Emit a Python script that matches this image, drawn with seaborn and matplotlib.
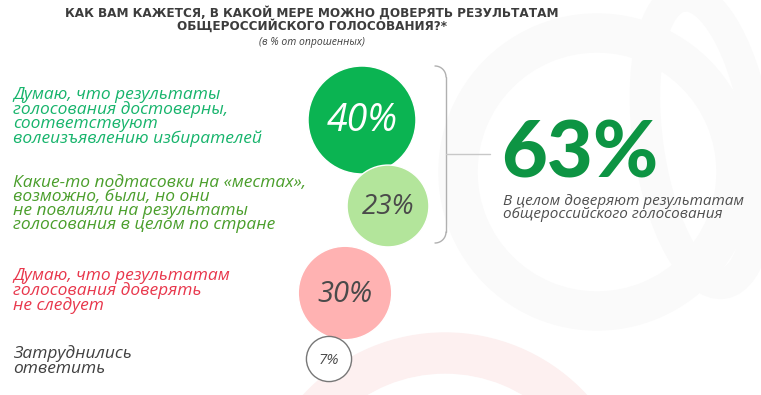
import numpy as np
import pandas as pd
import matplotlib
matplotlib.use('Agg')
import matplotlib.pyplot as plt
import seaborn as sns
from matplotlib.patches import Wedge, Ellipse

# Survey answers (percent of respondents)
answers = [
    'Думаю, что результаты\nголосования достоверны,\nсоответствуют\nволеизъявлению избирателей',
    'Какие-то подтасовки на «местах»,\nвозможно, были, но они\nне повлияли на результаты\nголосования в целом по стране',
    'Думаю, что результатам\nголосования доверять\nне следует',
    'Затруднились\nответить',
]
values = [40, 23, 30, 7]
total_trust = 63

# layout (pixel coords of the 761x395 canvas)
bubble_x = [362, 388, 345, 329]
bubble_y = [120, 206, 293, 359]
label_y = [117, 204, 291, 361]
fill_colors = ['#0bb452', '#b3e59b', '#ffb2b2', '#ffffff']
edge_colors = ['#ffffff', '#ffffff', '#ffffff', '#777777']
label_colors = ['#17b46c', '#4a9e2b', '#e8374c', '#404040']
value_colors = ['#ffffff', '#4a4a4a', '#4a4a4a', '#4a4a4a']
value_sizes = [27, 20, 21, 11]

df = pd.DataFrame({'answer': answers, 'value': values, 'x': bubble_x, 'y': bubble_y})

sns.set_style('white')
plt.rcParams['font.family'] = ['Open Sans', 'DejaVu Sans']

fig = plt.figure(figsize=(7.61, 3.95), dpi=100)
ax = fig.add_axes([0, 0, 1, 1])
ax.set_xlim(0, 761)
ax.set_ylim(395, 0)
ax.axis('off')

# faint watermark shapes in the background
ax.add_patch(Wedge((597, 172), 158, 0, 360, width=38, color='#fafafa', zorder=0))
ax.add_patch(Ellipse((703, 140), 110, 290, angle=-8, fill=False, lw=22, ec='#fafafa', zorder=0))
ax.add_patch(Wedge((445, 525), 192, 0, 360, width=40, color='#fdf0f0', zorder=0))

# bubbles: area proportional to the value
sns.scatterplot(data=df, x='x', y='y', hue='answer', size='value',
                palette=dict(zip(answers, fill_colors)),
                sizes={v: 151 * v for v in values},
                edgecolor=edge_colors, linewidth=1.0, legend=False, ax=ax, zorder=3)

for i in range(len(values)):
    ax.text(bubble_x[i], bubble_y[i] + 1, f'{values[i]}%', ha='center', va='center',
            fontsize=value_sizes[i], style='italic', color=value_colors[i], zorder=4)
    ax.text(13, label_y[i], answers[i], ha='left', va='center', fontsize=12.5,
            style='italic', color=label_colors[i], linespacing=0.85, zorder=4)

# bracket joining the two "trust" answers
t = np.linspace(0, np.pi / 2, 20)
r = 11
top_x = 435 + r * np.sin(t)
top_y = 66 + r * (1 - np.cos(t))
ax.plot(top_x, top_y, color='#b0b0b0', lw=1)
ax.plot(top_x, 243 - (top_y - 66), color='#b0b0b0', lw=1)
ax.plot([446, 446], [77, 232], color='#b0b0b0', lw=1)
ax.plot([446, 490], [154, 154], color='#c8c8c8', lw=1)

ax.text(501, 155, f'{total_trust}%', ha='left', va='center', fontsize=57,
        fontweight=900, color='#0d9443', family=['Lato', 'DejaVu Sans'])
ax.text(503, 208, 'В целом доверяют результатам\nобщероссийского голосования',
        ha='left', va='center', fontsize=11, style='italic', color='#505050', linespacing=0.85)

ax.text(312, 19, 'КАК ВАМ КАЖЕТСЯ, В КАКОЙ МЕРЕ МОЖНО ДОВЕРЯТЬ РЕЗУЛЬТАТАМ\nОБЩЕРОССИЙСКОГО ГОЛОСОВАНИЯ?*',
        ha='center', va='center', fontsize=9.6, fontweight='bold', color='#3c3c3c',
        linespacing=1.0, family='DejaVu Sans', fontstretch='condensed')
ax.text(312, 43, '(в % от опрошенных)', ha='center', va='center', fontsize=7.5,
        style='italic', color='#404040')

fig.savefig('out.png', dpi=100)
